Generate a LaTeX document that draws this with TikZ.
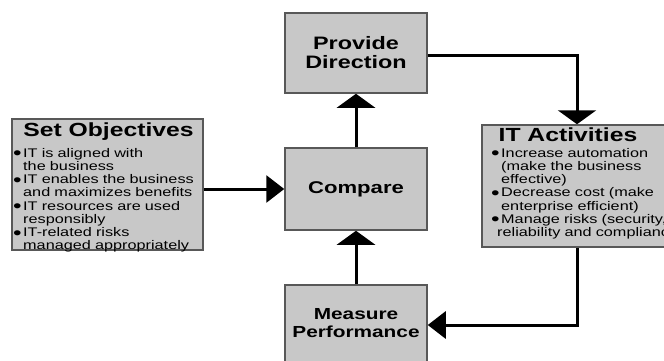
\documentclass[tikz,border=0pt]{standalone}
\usepackage{fontspec}
\setmainfont{Liberation Sans}[FakeStretch=1.3]
\usetikzlibrary{arrows.meta}

\definecolor{boxfill}{RGB}{200,200,200}
\definecolor{boxline}{RGB}{88,88,88}

% one bullet point with a hanging indent for its continuation lines
\newcommand{\bulletline}[1]{\noindent\hangindent=10pt\hangafter=1\makebox[10pt][l]{\raisebox{-2.6pt}{\scalebox{1.5}{\textbullet}}}#1\par}
% forced line break that stays inside the paragraph
\newcommand{\brk}{\hfil\break}

\tikzset{
  stage/.style={rectangle, draw=boxline, fill=boxfill, line width=1.5pt,
    inner sep=0pt, align=center},
  stagetext/.style={font=\bfseries\fontsize{17}{19}\selectfont},
  heading/.style={inner sep=0pt, font=\bfseries\fontsize{19}{21}\selectfont},
  bodytext/.style={inner sep=0pt, align=left,
    font=\fontsize{12.5}{13.2}\selectfont},
  hflow/.style={line width=3pt, -{Triangle[length=18pt,width=27pt]}},
  vflow/.style={line width=3pt, -{Triangle[length=14pt,width=38pt]}},
}

\begin{document}
\begin{tikzpicture}[x=1pt,y=-1pt]
  \useasboundingbox (0,0) rectangle (664,360);
  \fill[white] (0,0) rectangle (664,360);
  \clip (0,0) rectangle (664,360);

  % central loop of stages
  \node[stage, minimum width=142pt, minimum height=80pt,
        font=\bfseries\fontsize{18}{19}\selectfont]
    (pd) at (356,53) {Provide\\Direction};
  \node[stage, stagetext, minimum width=142pt, minimum height=82pt]
    (cmp) at (356,189) {Compare};
  \node[stage, minimum width=142pt, minimum height=80pt,
        font=\bfseries\fontsize{16}{19}\selectfont]
    (mp) at (356,325) {\raisebox{2pt}{\begin{tabular}{@{}c@{}}Measure\\[-1pt]Performance\end{tabular}}};

  % objectives box
  \node[stage, minimum width=191pt, minimum height=131pt] (so) at (107.5,184.5) {};
  \node[heading] (sotitle) at (108.5,132) {Set Objectives};
  \node[bodytext, anchor=north west, text width=188pt] (sobody) at (13,148) {%
    \bulletline{IT is aligned with\brk the business}
    \bulletline{IT enables the business\brk and maximizes benefits}
    \bulletline{IT resources are used\brk responsibly}
    \bulletline{IT-related risks\brk managed appropriately}};

  % activities box
  \node[stage, minimum width=190pt, minimum height=122pt] (it) at (577,186) {};
  \node[heading] (ittitle) at (568,135) {IT Activities};
  \node[bodytext, anchor=north west, text width=200pt] (itbody) at (491,148) {%
    \bulletline{Increase automation\brk (make the business\brk effective)}
    \bulletline{Decrease cost (make\brk enterprise efficient)}
    \bulletline{Manage risks (security,\brk \hspace*{-4pt}reliability and compliance)}};

  % connectors
  \draw[hflow] (so.east |- cmp.west) -- (cmp.west);
  \draw[vflow] (cmp.north) -- (pd.south);
  \draw[vflow] (pd.east |- 0,55) -| (it.north);
  \draw[hflow] (it.south) |- (mp.east);
  \draw[vflow] (mp.north) -- (cmp.south);
\end{tikzpicture}
\end{document}
